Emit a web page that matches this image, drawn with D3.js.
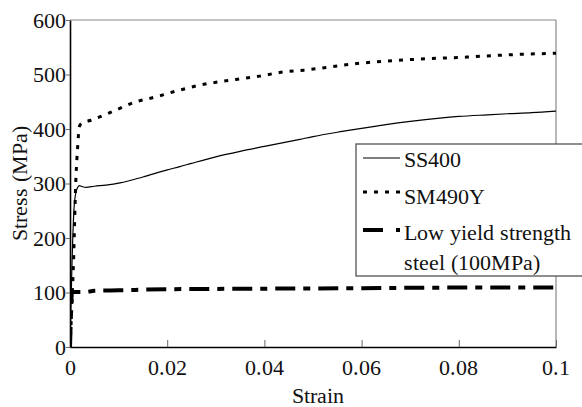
<!DOCTYPE html>
<html>
<head>
<meta charset="utf-8">
<script src="https://cdn.jsdelivr.net/npm/d3@7/dist/d3.min.js"></script>
<style>
  @font-face { font-family: "ChartSerif"; src: local("Liberation Serif"), local("LiberationSerif"), local("Liberation Serif Regular"), local("LiberationSerif-Regular"); }
</style>
</head>
<body style="margin:0;background:#fff">
<svg id="fig" width="582" height="407"></svg>
<script>
// ---- Data (strain, stress in MPa) ----
const ss400 = [
  [0, 0], [0.0004, 150], [0.0008, 250], [0.0012, 283], [0.0016, 293], [0.0019, 296],
  [0.0026, 294], [0.0033, 293], [0.005, 295], [0.0074, 297], [0.0103, 301],
  [0.015, 312], [0.02, 325], [0.0226, 331], [0.025, 337], [0.03, 349],
  [0.035, 359], [0.04, 368], [0.0473, 381], [0.05, 386], [0.055, 394],
  [0.06, 401], [0.065, 408], [0.07, 414], [0.0761, 420], [0.08, 423],
  [0.0858, 426], [0.09, 428], [0.095, 430], [0.1, 433]
];
const sm490y = [
  [0, 0], [0.0004, 80], [0.0007, 150], [0.0012, 306], [0.0016, 370],
  [0.0019, 404], [0.0025, 411], [0.0043, 416], [0.0095, 435], [0.0136, 450],
  [0.0177, 459], [0.0224, 471], [0.027, 481], [0.0317, 488], [0.0342, 491],
  [0.039, 497], [0.0434, 504], [0.0481, 508], [0.06, 521], [0.0714, 528],
  [0.0817, 532], [0.09, 536], [0.1, 539]
];
const lowYield = [
  [0, 0], [0.0002, 60], [0.0004, 100], [0.001, 101], [0.003, 101],
  [0.005, 103], [0.01, 104], [0.02, 106], [0.04, 107], [0.06, 108],
  [0.08, 109], [0.1, 109]
];
const xTicks = [0, 0.02, 0.04, 0.06, 0.08, 0.1];
const xTickLabels = ["0", "0.02", "0.04", "0.06", "0.08", "0.1"];
const yTicks = [0, 100, 200, 300, 400, 500, 600];
const seriesNames = ["SS400", "SM490Y", "Low yield strength|steel (100MPa)"];

const FONT = "ChartSerif, 'Liberation Serif', serif";

// ---- Layout ----
const svg = d3.select("#fig");
const margin = {left: 70, top: 20, right: 26, bottom: 60};
const W = 582, H = 407;
const pw = W - margin.left - margin.right,
      ph = H - margin.top - margin.bottom;

const x = d3.scaleLinear().domain([0, 0.1]).range([margin.left, margin.left + pw]);
const y = d3.scaleLinear().domain([0, 600]).range([margin.top + ph, margin.top]);

// styles for each series
const styles = [
  {width: 1.2, dash: null},
  {width: 3, dash: "4,7"},
  {width: 4, dash: "20,8,7,8"}
];

svg.append("defs").append("clipPath").attr("id", "clip")
  .append("rect")
  .attr("x", margin.left).attr("y", margin.top - 2)
  .attr("width", pw).attr("height", ph + 2);

// frame: top and right in grey
svg.append("line")
  .attr("x1", x(0)).attr("x2", x(0.1))
  .attr("y1", y(600)).attr("y2", y(600))
  .attr("stroke", "#888").attr("stroke-width", 1.2);
svg.append("line")
  .attr("x1", x(0.1)).attr("x2", x(0.1))
  .attr("y1", y(600)).attr("y2", y(0))
  .attr("stroke", "#888").attr("stroke-width", 1.2);

// axes
const xAxis = svg.append("g")
  .attr("transform", `translate(0,${y(0)})`)
  .call(d3.axisBottom(x).tickValues(xTicks).tickSizeInner(-7).tickSizeOuter(0)
        .tickFormat((d, i) => xTickLabels[i]));
xAxis.select(".domain").attr("stroke", "#000").attr("stroke-width", 1.6);
xAxis.selectAll(".tick line").attr("stroke", "#666");

const yAxis = svg.append("g")
  .attr("transform", `translate(${x(0)},0)`)
  .call(d3.axisLeft(y).tickValues(yTicks).tickSize(4).tickSizeOuter(0));
yAxis.select(".domain").attr("stroke", "#000").attr("stroke-width", 1.6);
yAxis.selectAll(".tick line").attr("stroke", "#666");

// tick labels as plain texts on the svg
xAxis.selectAll(".tick text").remove();
yAxis.selectAll(".tick text").remove();
svg.selectAll("text.xlab").data(xTicks).join("text")
  .attr("class", "xlab")
  .attr("x", d => x(d)).attr("y", y(0) + 28)
  .attr("text-anchor", "middle")
  .attr("font-size", 22).attr("fill", "#111")
  .style("font-family", FONT)
  .text((d, i) => xTickLabels[i]);
svg.selectAll("text.ylab").data(yTicks).join("text")
  .attr("class", "ylab")
  .attr("x", x(0) - 4).attr("y", d => y(d) + 7.5)
  .attr("text-anchor", "end")
  .attr("font-size", 22).attr("fill", "#111")
  .style("font-family", FONT)
  .text(d => d);

// axis titles
svg.append("text")
  .attr("x", 318).attr("y", 403)
  .attr("text-anchor", "middle")
  .attr("font-size", 22).attr("fill", "#111")
  .style("font-family", FONT)
  .text("Strain");
svg.append("text")
  .attr("transform", `translate(27,${(y(0) + y(600)) / 2}) rotate(-90)`)
  .attr("text-anchor", "middle")
  .attr("font-size", 22).attr("fill", "#111")
  .style("font-family", FONT)
  .text("Stress (MPa)");

// ---- Curves ----
const line = d3.line().x(d => x(d[0])).y(d => y(d[1])).curve(d3.curveMonotoneX);
const plot = svg.append("g").attr("clip-path", "url(#clip)");
[ss400, sm490y, lowYield].forEach((data, i) => {
  plot.append("path")
    .datum(data)
    .attr("d", line)
    .attr("fill", "none")
    .attr("stroke", "#000")
    .attr("stroke-width", styles[i].width)
    .attr("stroke-dasharray", styles[i].dash);
});

// ---- Legend ----
const lg = svg.append("g");
lg.append("rect")
  .attr("x", 356).attr("y", 144)
  .attr("width", 240).attr("height", 132)
  .attr("fill", "#fff").attr("stroke", "#444").attr("stroke-width", 1.2);

const legendRows = [
  {ly: 158, ty: [167]},
  {ly: 192, ty: [204]},
  {ly: 230, ty: [240, 270]}
];
legendRows.forEach((r, i) => {
  lg.append("line")
    .attr("x1", 363).attr("x2", 400)
    .attr("y1", r.ly).attr("y2", r.ly)
    .attr("stroke", "#000")
    .attr("stroke-width", styles[i].width)
    .attr("stroke-dasharray", i === 2 ? "20,13,5,8" : styles[i].dash);
  seriesNames[i].split("|").forEach((t, j) => {
    lg.append("text")
      .attr("x", 404).attr("y", r.ty[j])
      .attr("font-size", 22).attr("fill", "#111")
      .style("font-family", FONT)
      .text(t);
  });
});
</script>
</body>
</html>
